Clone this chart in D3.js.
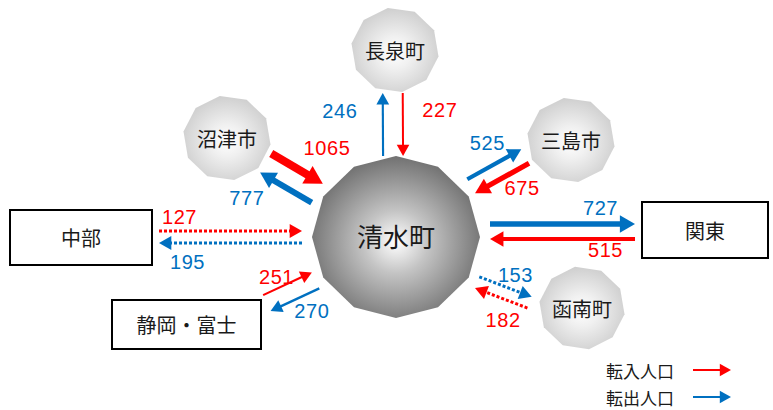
<!DOCTYPE html>
<html>
<head>
<meta charset="utf-8">
<script src="https://cdnjs.cloudflare.com/ajax/libs/d3/7.8.5/d3.min.js"></script>
<style>
  body { margin: 0; background: #fff; }
  text { font-family: "Noto Sans CJK JP", sans-serif; fill: #1a1a1a; }
  text.num { font-family: "Liberation Sans", sans-serif; font-size: 20px; letter-spacing: 0.6px; }
</style>
</head>
<body>
<svg width="773" height="410"></svg>
<script>
// flows to / from 清水町
const centerName = "清水町";
const regions = ["長泉町", "沼津市", "三島市", "関東", "函南町", "静岡・富士", "中部"];
const inflow  = [227, 1065, 675, 515, 182, 251, 127];   // 転入人口
const outflow = [246, 777, 525, 727, 153, 270, 195];    // 転出人口
const legendLabels = ["転入人口", "転出人口"];

const RED = "#ff0000", BLUE = "#0070c0";

// layout of the diagram
const hub = {x: 396, y: 237, rx: 84, ry: 81};
const place = {
  "長泉町":   {shape: "poly", x: 395, y: 50,  r: 44, shift: -2.5, sep: 20, trim: 43, lin: [37, -14], lout: [-43, -14]},
  "沼津市":   {shape: "poly", x: 227, y: 138, r: 44, shift: -2,   sep: 22, trim: 46, lin: [30, -21], lout: [-39, 10]},
  "三島市":   {shape: "poly", x: 571, y: 140, r: 44, shift: -8,   sep: 16, trim: 48, lin: [20, 10],  lout: [-7, -21]},
  "函南町":   {shape: "poly", x: 582, y: 308, r: 43, shift: 13.5, sep: 12, trim: 51, lin: [2, 22],   lout: [10, -12]},
  "関東":     {shape: "rect", x0: 642, y0: 202, x1: 768, y1: 258, shift: -5.5, sep: 15, trim: 7, lin: [43, 11],  lout: [38, -16]},
  "静岡・富士": {shape: "rect", x0: 112, y0: 300, x1: 261, y1: 349, shift: -5.3, sep: 17.6, trim: 4, lin: [-11, -7], lout: [17, 11]},
  "中部":     {shape: "rect", x0: 10,  y0: 210, x1: 152, y1: 265, shift: 0,  sep: 12, trim: 7, lin: [-51, -14], lout: [-43, 19]}
};

const svg = d3.select("svg");
const defs = svg.append("defs");

function radial(id, edge, mid) {
  const g = defs.append("radialGradient").attr("id", id)
    .attr("cx", "50%").attr("cy", "53%").attr("r", "55%");
  g.append("stop").attr("offset", "0%").attr("stop-color", "#ffffff");
  g.append("stop").attr("offset", "35%").attr("stop-color", mid);
  g.append("stop").attr("offset", "100%").attr("stop-color", edge);
}
radial("hubGrad", "#6c6c6c", "#c4c4c4");
radial("satGrad", "#cdcdcd", "#f0f0f0");

const width = d3.scaleLinear().domain([227, 1065]).range([2, 8]);

function polygon(cx, cy, rx, ry, n, rot) {
  const pts = d3.range(n).map(k => {
    const a = rot + k * 2 * Math.PI / n;
    return [cx + rx * Math.cos(a), cy + ry * Math.sin(a)];
  });
  return "M" + pts.join("L") + "Z";
}

function arrow(g, x1, y1, x2, y2, value, color) {
  const dotted = value < 200;
  const w = dotted ? 3 : width(value);
  const len = Math.hypot(x2 - x1, y2 - y1);
  const ux = (x2 - x1) / len, uy = (y2 - y1) / len;
  const hl = 9 + w * 1.1, hw = 5 + w * 0.65;
  const bx = x2 - ux * hl, by = y2 - uy * hl;
  g.append("line")
    .attr("x1", x1).attr("y1", y1).attr("x2", bx + ux).attr("y2", by + uy)
    .attr("stroke", color).attr("stroke-width", w)
    .attr("stroke-dasharray", dotted ? "3,2" : null);
  g.append("path")
    .attr("d", `M${x2},${y2}L${bx - uy * hw},${by + ux * hw}L${bx + uy * hw},${by - ux * hw}Z`)
    .attr("fill", color);
}

const arrows = svg.append("g");
const labels = svg.append("g");

regions.forEach((name, i) => {
  const p = place[name];
  let ax, ay;
  if (p.shape === "poly") { ax = p.x; ay = p.y; }
  else {
    ax = Math.max(p.x0, Math.min(p.x1, hub.x));
    ay = Math.max(p.y0, Math.min(p.y1, hub.y));
  }
  const D = Math.hypot(ax - hub.x, ay - hub.y);
  const ux = (ax - hub.x) / D, uy = (ay - hub.y) / D;
  const px = -uy, py = ux;
  const s0 = 1 / Math.sqrt(ux * ux / (94 * 94) + uy * uy / (81 * 81));
  const s1 = D - p.trim;
  const pt = (s, o) => [hub.x + ux * s + px * o, hub.y + uy * s + py * o];

  // 転入 (red): node -> hub
  const oi = p.shift + p.sep / 2;
  const [ix1, iy1] = pt(s1, oi), [ix2, iy2] = pt(s0, oi);
  arrow(arrows, ix1, iy1, ix2, iy2, inflow[i], RED);
  labels.append("text").attr("class", "num")
    .attr("x", (ix1 + ix2) / 2 + p.lin[0]).attr("y", (iy1 + iy2) / 2 + p.lin[1])
    .attr("text-anchor", "middle").attr("dominant-baseline", "central")
    .style("fill", RED).text(inflow[i]);

  // 転出 (blue): hub -> node
  const oo = p.shift - p.sep / 2;
  const [ox1, oy1] = pt(s0, oo), [ox2, oy2] = pt(s1, oo);
  arrow(arrows, ox1, oy1, ox2, oy2, outflow[i], BLUE);
  labels.append("text").attr("class", "num")
    .attr("x", (ox1 + ox2) / 2 + p.lout[0]).attr("y", (oy1 + oy2) / 2 + p.lout[1])
    .attr("text-anchor", "middle").attr("dominant-baseline", "central")
    .style("fill", BLUE).text(outflow[i]);

  // node
  if (p.shape === "poly") {
    svg.append("path").attr("d", polygon(p.x, p.y, p.r, p.r * 0.97, 10, 0.15))
      .attr("fill", "url(#satGrad)");
    svg.append("text").attr("x", p.x).attr("y", p.y)
      .attr("text-anchor", "middle").attr("dominant-baseline", "central")
      .style("font-size", "20px").text(name);
  } else {
    svg.append("rect").attr("x", p.x0).attr("y", p.y0)
      .attr("width", p.x1 - p.x0).attr("height", p.y1 - p.y0)
      .attr("fill", "#fff").attr("stroke", "#000").attr("stroke-width", 2);
    svg.append("text").attr("x", (p.x0 + p.x1) / 2).attr("y", (p.y0 + p.y1) / 2)
      .attr("text-anchor", "middle").attr("dominant-baseline", "central")
      .style("font-size", "20px").text(name);
  }
});

// central node
svg.append("path").attr("d", polygon(hub.x, hub.y, hub.rx, hub.ry, 12, -Math.PI / 2))
  .attr("fill", "url(#hubGrad)");
svg.append("text").attr("x", hub.x).attr("y", hub.y - 2)
  .attr("text-anchor", "middle").attr("dominant-baseline", "central")
  .style("font-size", "26px").text(centerName);

// legend
const leg = svg.append("g");
legendLabels.forEach((t, i) => {
  const y = 370 + i * 27;
  leg.append("text").attr("x", 606).attr("y", y)
    .attr("dominant-baseline", "central").style("font-size", "17px").text(t);
  arrow(leg, 693, y, 731, y, 227, i === 0 ? RED : BLUE);
});
</script>
</body>
</html>
